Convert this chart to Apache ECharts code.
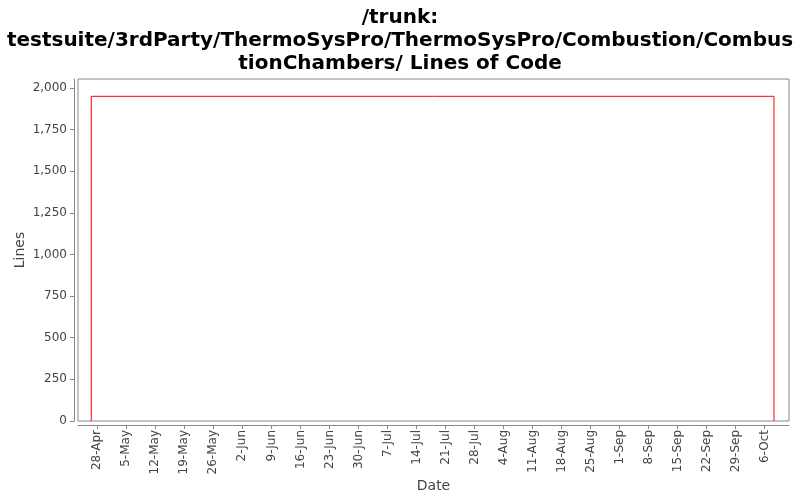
<!DOCTYPE html>
<html>
<head>
<meta charset="utf-8">
<script src="https://cdn.jsdelivr.net/npm/echarts@6/dist/echarts.min.js"></script>
<style>
  html, body { margin: 0; padding: 0; background: #fff; }
  #chart { width: 800px; height: 500px; }
</style>
</head>
<body>
<div id="chart"></div>
<script>
  // Lines of code over time (step shape: one jump up, one drop at the end).
  var DATES = ["2008-04-26T13:00:00Z", "2008-04-26T13:00:00Z", "2008-10-08T07:00:00Z", "2008-10-08T07:00:00Z"];
  var LINES = [0, 1950, 1950, 0];

  // Weekly tick marks along the date axis.
  var TICK_DATES = [
    "2008-04-28", "2008-05-05", "2008-05-12", "2008-05-19", "2008-05-26",
    "2008-06-02", "2008-06-09", "2008-06-16", "2008-06-23", "2008-06-30",
    "2008-07-07", "2008-07-14", "2008-07-21", "2008-07-28", "2008-08-04",
    "2008-08-11", "2008-08-18", "2008-08-25", "2008-09-01", "2008-09-08",
    "2008-09-15", "2008-09-22", "2008-09-29", "2008-10-06"
  ];
  var MONTHS = ["Jan", "Feb", "Mar", "Apr", "May", "Jun", "Jul", "Aug", "Sep", "Oct", "Nov", "Dec"];

  var X_MIN = "2008-04-23T08:00:00Z";
  var X_MAX = "2008-10-11T22:00:00Z";
  var Y_TICKS = [0, 250, 500, 750, 1000, 1250, 1500, 1750, 2000];
  var Y_MAX = 2054;   // plot box runs a little above the 2,000 tick

  var ts = function (s) { return Date.parse(s.length === 10 ? s + "T00:00:00Z" : s); };

  var chart = echarts.init(document.getElementById("chart"), null, { renderer: "canvas" });

  var axisGray = "#888888";
  var labelGray = "#444444";
  var font = "DejaVu Sans";

  chart.setOption({
    animation: false,
    textStyle: { fontFamily: font },
    title: {
      text: "/trunk:\ntestsuite/3rdParty/ThermoSysPro/ThermoSysPro/Combustion/Combus\ntionChambers/ Lines of Code",
      left: "center",
      top: 1,
      textStyle: { fontFamily: font, fontSize: 20, fontWeight: "bold", color: "#000", lineHeight: 23 }
    },
    grid: {
      left: 78, right: 11, top: 79, bottom: 79,
      outerBoundsMode: "none",
      containLabel: false,
      show: true, borderColor: axisGray, borderWidth: 1, backgroundColor: "#fff"
    },
    xAxis: {
      type: "value",
      min: ts(X_MIN),
      max: ts(X_MAX),
      offset: 4,
      name: "Date",
      nameLocation: "middle",
      nameGap: 54,
      nameMoveOverlap: false,
      nameTextStyle: { fontFamily: font, fontSize: 14, color: labelGray },
      axisLine: { show: true, onZero: false, lineStyle: { color: axisGray } },
      axisTick: { show: true, length: 4, lineStyle: { color: axisGray }, customValues: TICK_DATES.map(ts) },
      splitLine: { show: false },
      axisLabel: {
        rotate: 90,
        margin: 5,
        fontSize: 12,
        color: labelGray,
        customValues: TICK_DATES.map(ts),
        formatter: function (v) {
          var d = new Date(v);
          return d.getUTCDate() + "-" + MONTHS[d.getUTCMonth()];
        }
      }
    },
    yAxis: {
      type: "value",
      min: 0,
      max: Y_MAX,
      offset: 4,
      name: "Lines",
      nameLocation: "middle",
      nameGap: 47,
      nameMoveOverlap: false,
      nameTextStyle: { fontFamily: font, fontSize: 14, color: labelGray },
      axisLine: { show: true, lineStyle: { color: axisGray } },
      axisTick: { show: true, length: 4, lineStyle: { color: axisGray }, customValues: Y_TICKS },
      splitLine: { show: false },
      axisLabel: {
        margin: 7,
        fontSize: 12,
        color: labelGray,
        customValues: Y_TICKS,
        formatter: function (v) { return v.toLocaleString("en-US"); }
      }
    },
    series: [{
      type: "line",
      symbol: "none",
      silent: true,
      lineStyle: { color: "#ff0000", width: 1 },
      data: DATES.map(function (d, i) { return [ts(d), LINES[i]]; })
    }]
  });
</script>
</body>
</html>
